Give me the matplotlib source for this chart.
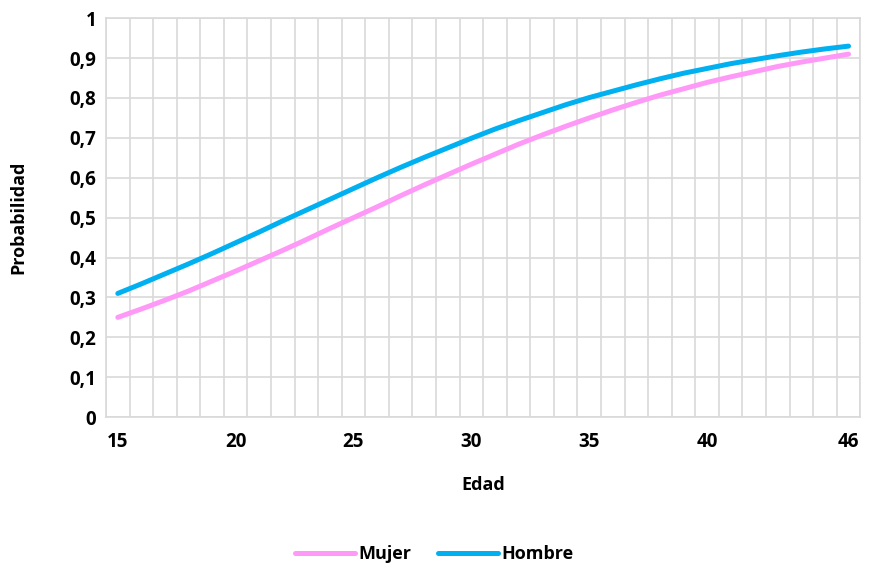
import numpy as np
import matplotlib.pyplot as plt
from matplotlib.ticker import FixedLocator, FuncFormatter

# Edad (categorías) y probabilidades
edad = list(range(15, 47))
mujer = [0.250, 0.271, 0.293, 0.316, 0.341, 0.366, 0.392, 0.418, 0.445, 0.473,
         0.500, 0.527, 0.555, 0.582, 0.608, 0.634, 0.659, 0.684, 0.707, 0.729,
         0.750, 0.770, 0.789, 0.807, 0.823, 0.839, 0.853, 0.866, 0.879, 0.890,
         0.900, 0.910]
hombre = [0.310, 0.334, 0.359, 0.384, 0.410, 0.437, 0.464, 0.492, 0.519, 0.546,
          0.573, 0.600, 0.626, 0.651, 0.675, 0.699, 0.722, 0.743, 0.763, 0.783,
          0.801, 0.817, 0.833, 0.848, 0.862, 0.874, 0.886, 0.896, 0.906, 0.915,
          0.923, 0.930]
xticks = [15, 20, 25, 30, 35, 40, 46]
yticks = [0, 0.1, 0.2, 0.3, 0.4, 0.5, 0.6, 0.7, 0.8, 0.9, 1.0]

plt.rcParams['font.family'] = ['Open Sans', 'DejaVu Sans']
plt.rcParams['font.weight'] = 'bold'

fig = plt.figure(figsize=(8.69, 5.69), dpi=100)
ax = fig.add_axes([0.122, 0.267, 0.868, 0.701])

ax.plot(edad, mujer, color='#FF99F8', lw=3.6, solid_capstyle='round', label='Mujer', zorder=3)
ax.plot(edad, hombre, color='#00B0F0', lw=3.6, solid_capstyle='round', label='Hombre', zorder=3)

ax.set_xlim(14.5, 46.5)
ax.set_ylim(0, 1)
ax.set_xticks(xticks)
ax.xaxis.set_minor_locator(FixedLocator(np.arange(14.5, 47, 1)))
ax.set_yticks(yticks)
ax.yaxis.set_major_formatter(FuncFormatter(lambda v, p: f"{v:.1f}".replace('.', ',') if 0 < v < 1 else f"{v:.0f}"))

ax.grid(True, which='minor', axis='x', color='#D9D9D9', lw=1.2)
ax.grid(True, which='major', axis='y', color='#D9D9D9', lw=1.2)
ax.set_axisbelow(True)
for s in ax.spines.values():
    s.set_color('#D9D9D9')
    s.set_linewidth(1.2)
ax.tick_params(which='both', length=0)
ax.tick_params(axis='x', pad=11, labelsize=13.5)
ax.tick_params(axis='y', pad=7, labelsize=13.5)

ax.set_xlabel('Edad', fontsize=13, fontweight='bold', labelpad=17)
ax.set_ylabel('Probabilidad', fontsize=13, fontweight='bold', labelpad=30)

fig.legend(loc='lower center', bbox_to_anchor=(0.5, -0.018), ncol=2, frameon=False,
           fontsize=13, handlelength=3.3, handletextpad=0.2, columnspacing=1.5)

fig.savefig('out.png', dpi=100)
